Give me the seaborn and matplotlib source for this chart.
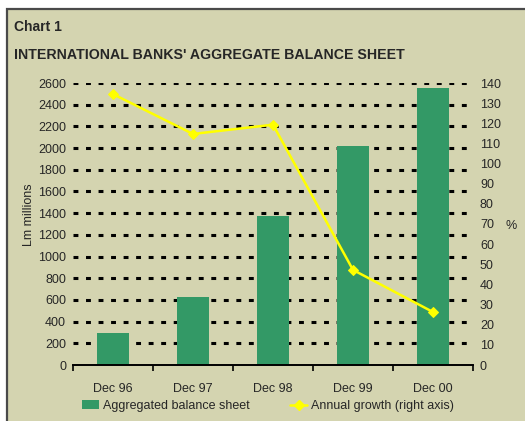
import matplotlib
matplotlib.use("Agg")
import matplotlib.pyplot as plt
import seaborn as sns
import pandas as pd
from matplotlib.patches import Rectangle
from matplotlib.lines import Line2D
from matplotlib.patches import Patch

# data
periods = ["Dec 96", "Dec 97", "Dec 98", "Dec 99", "Dec 00"]
balance = [298, 630, 1375, 2020, 2556]
growth = [134.5, 114.7, 119.3, 47.2, 26.3]
left_ticks = list(range(0, 2601, 200))
right_ticks = list(range(0, 141, 10))

bg = "#D4D4B0"
green = "#339966"
yellow = "#FFFF00"

sns.set_style("white")
plt.rcParams["font.family"] = ["Liberation Sans", "DejaVu Sans"]

df = pd.DataFrame({"period": periods, "balance": balance, "growth": growth})

fig = plt.figure(figsize=(5.25, 4.21), dpi=100)
fig.patch.set_facecolor("white")

# panel background with the dark frame on left/top
fig.patches.append(Rectangle((7 / 525, -0.1), 1.2, 1 - 9 / 421 + 0.1,
                             transform=fig.transFigure, facecolor=bg,
                             edgecolor="#4a4a4a", linewidth=1.6, zorder=-5))

ax = fig.add_axes([73 / 525, 1 - 365 / 421, 400 / 525, 282 / 421])
ax.set_facecolor("none")

sns.barplot(data=df, x="period", y="balance", color=green, width=0.4,
            saturation=1, linewidth=0, ax=ax, zorder=2)
ax.set_ylim(0, 2600)
ax.set_xlim(-0.5, 4.5)
ax.set_yticks(left_ticks)
for v in left_ticks[1:]:
    ax.axhline(v, color="black", lw=2.2, ls=(0, (1.6, 2.5)), zorder=1)

for s in ["top", "right", "left"]:
    ax.spines[s].set_visible(False)
ax.spines["bottom"].set_color("black")
ax.spines["bottom"].set_linewidth(1.4)
ax.set_xticks([i - 0.5 for i in range(6)], minor=True)
ax.tick_params(axis="x", which="minor", length=4, width=1.2, color="black",
               direction="out", bottom=True)
ax.tick_params(axis="x", which="major", length=0, pad=13, labelsize=9)
ax.tick_params(axis="y", length=0, pad=5, labelsize=9)
ax.set_xlabel("")
ax.set_ylabel("Lm millions", fontsize=9)
ax.yaxis.set_label_coords(-0.095, 0.532)

ax2 = ax.twinx()
sns.lineplot(data=df, x="period", y="growth", color=yellow, lw=1.8,
             marker="D", markersize=5, markeredgecolor=yellow, ax=ax2)
ax2.set_ylim(0, 140)
ax2.set_yticks(right_ticks)
for s in ["top", "right", "left", "bottom"]:
    ax2.spines[s].set_visible(False)
ax2.tick_params(axis="y", length=0, pad=5, labelsize=9)
ax2.set_ylabel("")
ax2.set_xlabel("")
fig.text(505 / 525, 1 - 226 / 421, "%", fontsize=9, va="center")

fig.text(14 / 525, 1 - 27 / 421, "Chart 1", fontsize=10,
         fontweight="bold", va="center")
fig.text(14 / 525, 1 - 55 / 421, "INTERNATIONAL BANKS' AGGREGATE BALANCE SHEET",
         fontsize=10.2, fontweight="bold", va="center")

handles = [Patch(facecolor=green, edgecolor="none"),
           Line2D([], [], color=yellow, lw=1.8, marker="D", markersize=5)]
fig.legend(handles, ["Aggregated balance sheet", "Annual growth (right axis)"],
           loc="center", bbox_to_anchor=(268 / 525, 1 - 406 / 421), ncol=2,
           frameon=False, fontsize=9, columnspacing=3.2, handlelength=1.4,
           handletextpad=0.3)

fig.savefig("out.png", dpi=100, facecolor=fig.get_facecolor())
